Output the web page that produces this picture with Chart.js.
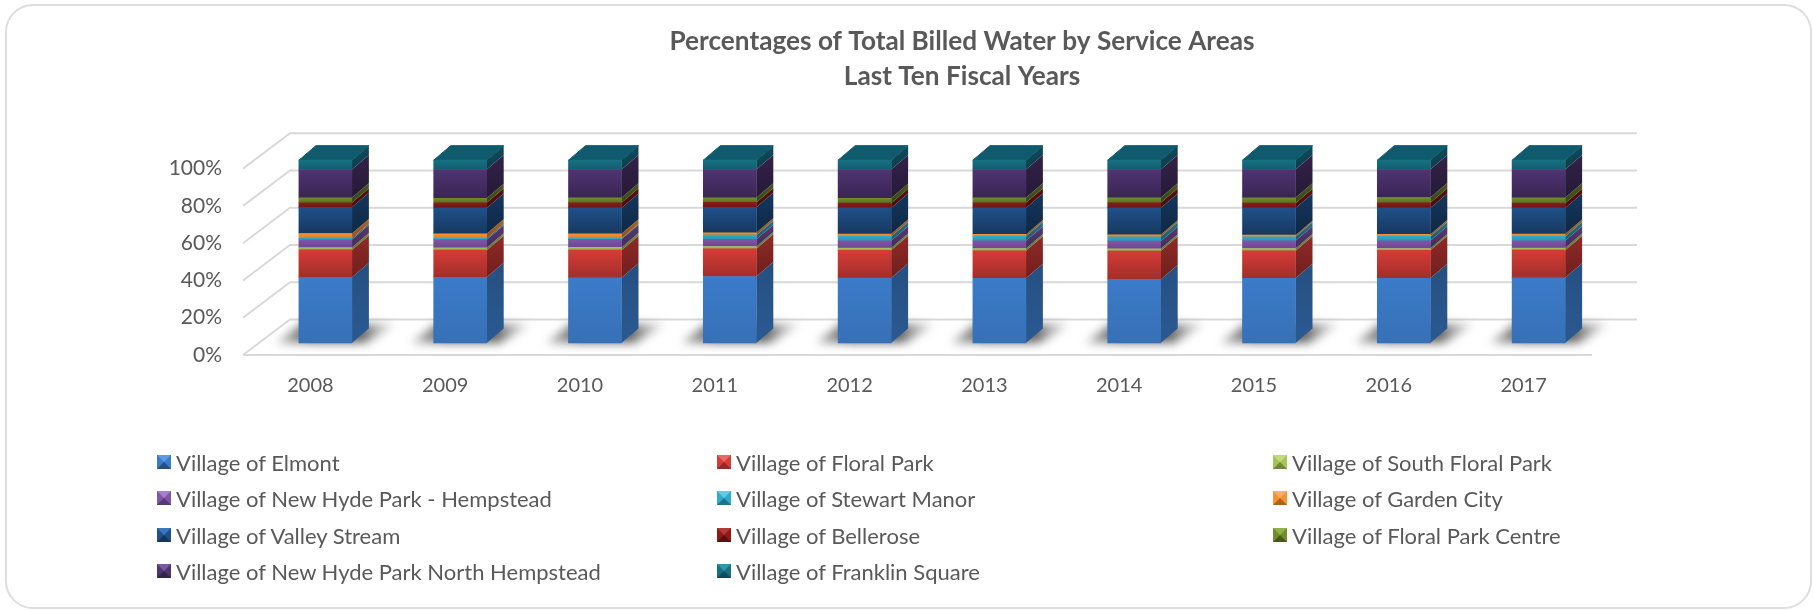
<!DOCTYPE html>
<html>
<head>
<meta charset="utf-8">
<title>Percentages of Total Billed Water by Service Areas</title>
<script src="https://cdn.jsdelivr.net/npm/chart.js@4/dist/chart.umd.min.js"></script>
<style>
    html, body { margin: 0; padding: 0; background: #fff; }
    #wrap { position: relative; width: 1813px; height: 610px; overflow: hidden; }
    #card { position: absolute; left: 5px; top: 4px; width: 1807px; height: 605px; box-sizing: border-box;
            border: 2.5px solid #dedede; border-radius: 28px; }
    #chart { position: absolute; left: 0; top: 0; }
    .leg { position: absolute; font: 22px Lato, sans-serif; color: #595959; white-space: nowrap; line-height: 24px; }
    .sw { position: absolute; left: 0; top: 4px; width: 0; height: 0; border-style: solid; border-width: 7.5px; }
    .txt { position: absolute; left: 19px; top: 0; }
</style>
</head>
<body>
<div id="wrap">
    <div id="card"></div>
    <canvas id="chart" width="1813" height="610"></canvas>
    <div id="legend"></div>
</div>
<script>
const years = ["2008", "2009", "2010", "2011", "2012", "2013", "2014", "2015", "2016", "2017"];
const tickPercents = [0, 20, 40, 60, 80, 100];

// percent of each bar
const elmont        = [35.9, 35.9, 35.7, 36.4, 35.5, 35.4, 34.8, 35.4, 35.4, 35.7];
const floralPark    = [15.0, 14.9, 15.1, 15.1, 15.2, 15.0, 15.5, 15.0, 15.3, 15.1];
const southFloral   = [1.3, 1.3, 1.5, 1.3, 1.2, 1.3, 1.2, 1.3, 1.0, 1.1];
const newHydeHemp   = [4.4, 4.4, 4.4, 3.9, 4.0, 4.2, 4.2, 4.2, 4.2, 4.0];
const stewartManor  = [0.7, 0.7, 0.5, 2.3, 2.4, 2.4, 2.4, 2.2, 2.4, 2.4];
const gardenCity    = [2.6, 2.5, 2.5, 1.3, 1.3, 1.1, 1.1, 0.9, 1.1, 1.3];
const valleyStream  = [14.3, 14.2, 14.2, 13.9, 14.3, 14.5, 14.7, 14.9, 14.5, 14.3];
const bellerose     = [2.5, 2.8, 2.8, 2.7, 2.6, 2.8, 2.8, 2.6, 2.8, 2.6];
const floralCentre  = [2.7, 2.5, 2.7, 2.5, 2.7, 2.7, 2.7, 2.9, 2.9, 2.9];
const newHydeNorth  = [15.5, 15.7, 15.5, 15.5, 15.7, 15.5, 15.5, 15.5, 15.3, 15.5];
const franklin      = [5.1, 5.1, 5.1, 5.1, 5.1, 5.1, 5.1, 5.1, 5.1, 5.1];

const seriesNames = ["Village of Elmont", "Village of Floral Park", "Village of South Floral Park",
    "Village of New Hyde Park - Hempstead", "Village of Stewart Manor", "Village of Garden City",
    "Village of Valley Stream", "Village of Bellerose", "Village of Floral Park Centre",
    "Village of New Hyde Park North Hempstead", "Village of Franklin Square"];
const seriesValues = [elmont, floralPark, southFloral, newHydeHemp, stewartManor, gardenCity,
    valleyStream, bellerose, floralCentre, newHydeNorth, franklin];

// colours: front top, front bottom, side top, side bottom, legend light
const frontTop    = ["#3b7bc9", "#d63b36", "#a5c45e", "#8055a8", "#2fabcb", "#f59331", "#1f5089", "#8c1b18", "#6f8e2b", "#4e3472", "#17707f"];
const frontBottom = ["#3770b6", "#a12e2b", "#8aa64c", "#6d4690", "#2894b0", "#d97d25", "#17385f", "#6b1513", "#566f20", "#3a2552", "#125d70"];
const sideTop     = ["#264f80", "#8f2a27", "#6f8a3c", "#563873", "#1f7288", "#ad6420", "#14365e", "#5c100e", "#455a1a", "#332249", "#0f4b5c"];
const sideBottom  = ["#2a5a92", "#6f1f1d", "#5c7430", "#432b5a", "#185c6e", "#8d5119", "#0f2844", "#460c0a", "#364614", "#261936", "#0c3d4b"];
const topFace = "#0f5a6c";

// keep the side faces and wall away from the library's default look
const depthX = 17, depthY = 14.5;
const wallRight = 1637, floorRight = 1592, floorDx = 47;

function frontFill(ctx, i) {
    const chart = ctx.chart;
    if (!chart.chartArea || ctx.dataIndex === undefined) return frontTop[i];
    let sum = 0;
    for (let k = 0; k < i; k++) sum += seriesValues[k][ctx.dataIndex];
    const y = chart.scales.y;
    const g = chart.ctx.createLinearGradient(0, y.getPixelForValue(sum + seriesValues[i][ctx.dataIndex]), 0, y.getPixelForValue(sum));
    g.addColorStop(0, frontTop[i]);
    g.addColorStop(1, frontBottom[i]);
    return g;
}

const depthPlugin = {
    id: "depth",
    beforeDatasetsDraw(chart) {
        const c = chart.ctx;
        const wall = chart.scales.wall, lab = chart.scales.yLab;
        const backLeft = chart.chartArea.left + 32;
        c.save();
        // wall and floor lines
        c.strokeStyle = "#d9d9d9";
        c.lineWidth = 2;
        tickPercents.forEach(function (v) {
            const yb = wall.getPixelForValue(v), yf = lab.getPixelForValue(v);
            c.beginPath();
            c.moveTo(backLeft - floorDx, yf);
            c.lineTo(backLeft, yb);
            c.lineTo(wallRight, yb);
            c.stroke();
        });
        const y0 = lab.getPixelForValue(0);
        c.beginPath();
        c.moveTo(backLeft - floorDx, y0);
        c.lineTo(floorRight, y0);
        c.stroke();

        // floor shadows
        const first = chart.getDatasetMeta(0).data;
        first.forEach(function (bar) {
            const l = bar.x - bar.width / 2, r = bar.x + bar.width / 2, b = bar.base;
            c.save();
            c.filter = "blur(5px)";
            const g = c.createLinearGradient(l - 26, 0, r + 46, 0);
            g.addColorStop(0, "rgba(150,150,150,0.6)");
            g.addColorStop(0.3, "rgba(90,90,90,0.95)");
            g.addColorStop(0.7, "rgba(90,90,90,0.95)");
            g.addColorStop(1, "rgba(190,190,190,0.35)");
            c.fillStyle = g;
            c.beginPath();
            c.moveTo(l - 22, b);
            c.lineTo(l + 2, b - 19);
            c.lineTo(r + 44, b - 19);
            c.lineTo(r + 14, b);
            c.closePath();
            c.fill();
            c.restore();
        });

        // side faces of every segment, top face of the last one
        seriesValues.forEach(function (vals, i) {
            chart.getDatasetMeta(i).data.forEach(function (bar) {
                const r = bar.x + bar.width / 2, t = bar.y, b = bar.base;
                const g = c.createLinearGradient(0, t - depthY, 0, b);
                g.addColorStop(0, sideTop[i]);
                g.addColorStop(1, sideBottom[i]);
                c.fillStyle = g;
                c.beginPath();
                c.moveTo(r, b);
                c.lineTo(r + depthX, b - depthY);
                c.lineTo(r + depthX, t - depthY);
                c.lineTo(r, t);
                c.closePath();
                c.fill();
            });
        });
        chart.getDatasetMeta(seriesValues.length - 1).data.forEach(function (bar) {
            const l = bar.x - bar.width / 2, r = bar.x + bar.width / 2, t = bar.y;
            c.fillStyle = topFace;
            c.strokeStyle = topFace;
            c.lineWidth = 1;
            c.lineJoin = "round";
            c.beginPath();
            c.moveTo(l, t);
            c.lineTo(l + depthX, t - depthY);
            c.lineTo(r + depthX, t - depthY);
            c.lineTo(r, t);
            c.closePath();
            c.fill();
            c.stroke();
        });
        c.restore();
    }
};

const chart = new Chart(document.getElementById("chart").getContext("2d"), {
    type: "bar",
    plugins: [depthPlugin],
    data: {
        labels: years,
        datasets: seriesNames.map(function (name, i) {
            return {
                label: name,
                data: seriesValues[i],
                backgroundColor: function (ctx) { return frontFill(ctx, i); },
                borderWidth: 0,
                barThickness: 53,
                yAxisID: "y"
            };
        })
    },
    options: {
        responsive: false,
        animation: false,
        devicePixelRatio: 1,
        layout: { padding: { left: 111, right: 0, top: 0, bottom: 0 } },
        plugins: {
            legend: { display: false },
            tooltip: { enabled: false },
            title: {
                display: true,
                text: ["Percentages of Total Billed Water by Service Areas", "Last Ten Fiscal Years"],
                color: "#595959",
                font: { family: "Lato", size: 26.2, weight: "bold", lineHeight: 1.34 },
                padding: { top: 24, bottom: 39 }
            }
        },
        scales: {
            x: {
                stacked: true,
                grid: { display: false },
                border: { display: false },
                ticks: { color: "#595959", font: { family: "Lato", size: 20 }, padding: 11, labelOffset: -15, autoSkip: false, maxRotation: 0 },
                afterFit(s) { s.height = 255; }
            },
            y: { stacked: true, display: false, min: -6.56, max: 114.75 },
            yLab: {
                position: "left",
                min: 0,
                max: 119,
                grid: { display: false },
                border: { display: false },
                ticks: {
                    stepSize: 20,
                    includeBounds: false,
                    autoSkip: false,
                    color: "#595959",
                    padding: 28,
                    font: { family: "Lato", size: 21 },
                    callback: function (v) { return v + "%"; }
                },
                afterFit(s) { s.width = 147; }
            },
            wall: {
                position: "right",
                min: -19.1,
                max: 100,
                grid: { display: false },
                border: { display: false },
                ticks: { display: false },
                afterFit(s) { s.width = 207; }
            }
        }
    }
});

// three column legend, built from the chart's own datasets
const legendX = [157, 717, 1273];
const legendY = [451, 487, 524, 560];
const legendLight = ["#5a9ce0", "#e86a66", "#c2dd7a", "#a67fd0", "#62cce6", "#f9b35f", "#3a78bd", "#b53a36", "#8fb04a", "#7a5aa5", "#2d97ad"];
const legendBox = document.getElementById("legend");
chart.data.datasets.forEach(function (ds, i) {
    const item = document.createElement("div");
    item.className = "leg";
    item.style.left = legendX[i % 3] + "px";
    item.style.top = legendY[Math.floor(i / 3)] + "px";
    const sw = document.createElement("span");
    sw.className = "sw";
    sw.style.borderColor = legendLight[i] + " " + frontTop[i] + " " + sideTop[i] + " " + frontTop[i];
    const txt = document.createElement("span");
    txt.className = "txt";
    txt.textContent = ds.label;
    item.appendChild(sw);
    item.appendChild(txt);
    legendBox.appendChild(item);
});
</script>
</body>
</html>
